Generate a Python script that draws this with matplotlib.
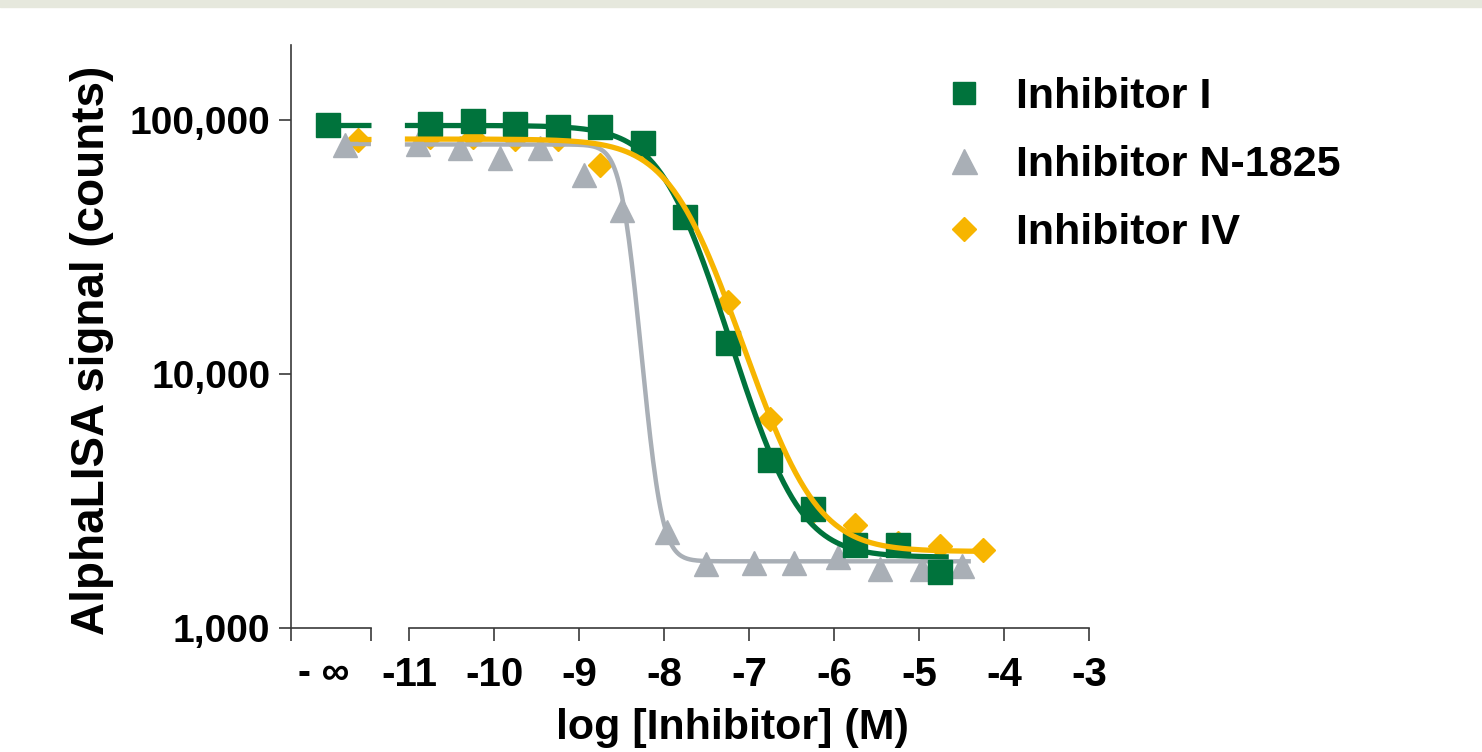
import numpy as np
import matplotlib
matplotlib.use("Agg")
import matplotlib.pyplot as plt
import matplotlib.transforms as mtransforms
from matplotlib.lines import Line2D
from matplotlib.patches import Rectangle

plt.rcParams['font.family'] = ['Liberation Sans', 'DejaVu Sans']
plt.rcParams['font.weight'] = 'bold'

# log [Inhibitor] (M) of each dilution and AlphaLISA counts
logc_inh1 = [-10.75, -10.25, -9.75, -9.25, -8.75, -8.25, -7.75, -7.25, -6.75, -6.25, -5.75, -5.25, -4.75]
sig_inh1 = [96400, 99100, 96400, 93800, 93800, 81100, 41500, 13200, 4580, 2940, 2120, 2120, 1660]
ctrl_inh1 = 95500  # no inhibitor (- inf)

logc_n1825 = [-10.9, -10.4, -9.93, -9.46, -8.94, -8.49, -7.96, -7.51, -6.94, -6.47, -5.95, -5.46, -4.96, -4.49]
sig_n1825 = [80000, 77600, 70800, 77600, 60700, 44300, 2390, 1790, 1800, 1800, 1900, 1710, 1710, 1750]
ctrl_n1825 = 79800

logc_inh4 = [-10.75, -10.25, -9.75, -9.25, -8.75, -8.25, -7.75, -7.25, -6.75, -6.25, -5.75, -5.25, -4.75, -4.25]
sig_inh4 = [85700, 85700, 84200, 84200, 66500, 76200, 41500, 19200, 6650, 2890, 2550, 2160, 2100, 2030]
ctrl_inh4 = 83400

# four parameter fits: top, bottom, logIC50, hill slope
fit_inh1 = (95000, 1900, -7.85, 1.35)
fit_n1825 = (80000, 1830, -8.45, 4.5)
fit_inh4 = (84000, 2000, -7.72, 1.25)

labels = ["Inhibitor I", "Inhibitor N-1825", "Inhibitor IV"]
xticks = [-11, -10, -9, -8, -7, -6, -5, -4, -3]
yticks = [1000, 10000, 100000]
yticklabels = ["1,000", "10,000", "100,000"]

GREEN = '#00733c'
GRAY = '#a9afb6'
YELLOW = '#f7b500'
AXC = '#3a3a3a'

X_INF = -12.0      # where the "- inf" label sits
X_LEFT = -12.39    # left end of axis
X_BREAK = -11.45   # end of the first axis segment


def four_pl(x, top, bottom, logic50, hill):
    return bottom + (top - bottom) / (1 + 10 ** ((x - logic50) * hill))


fig = plt.figure(figsize=(14.82, 7.52), dpi=100)
fig.patches.append(Rectangle((0, 1 - 7 / 752), 1, 7 / 752, transform=fig.transFigure,
                             color='#e6e8dd', zorder=0))
ax = fig.add_axes([291 / 1482, 1 - 628 / 752, 798 / 1482, 583 / 752])

# data, fit, colour, marker, size, line width, marker z, line z, -inf offset
series = [
    (logc_inh1, sig_inh1, ctrl_inh1, fit_inh1, GREEN, 's', 17, 3.8, 5, 6, 0.05),
    (logc_n1825, sig_n1825, ctrl_n1825, fit_n1825, GRAY, '^', 17, 3.2, 4, 4.5, 0.25),
    (logc_inh4, sig_inh4, ctrl_inh4, fit_inh4, YELLOW, 'D', 12, 3.8, 3, 7, 0.4),
]

for logc, sig, ctrl, fit, col, mk, ms, lw, mz, lz, off in series:
    ax.plot(logc, sig, ls='none', marker=mk, ms=ms, color=col, mec=col, zorder=mz, clip_on=False)
    ax.plot([X_INF + off], [ctrl], ls='none', marker=mk, ms=ms, color=col, mec=col, zorder=mz,
            clip_on=False)
    xs = np.linspace(-11.05, logc[-1] + 0.1, 400)
    ax.plot(xs, four_pl(xs, *fit), color=col, lw=lw, zorder=lz, solid_capstyle='butt')
    ax.plot([X_INF + off, X_BREAK], [fit[0], fit[0]], color=col, lw=lw, zorder=lz,
            solid_capstyle='butt')

ax.set_yscale('log')
ax.set_ylim(1000, 197000)
ax.set_xlim(X_LEFT, -3)

ax.yaxis.set_major_locator(matplotlib.ticker.FixedLocator(yticks))
ax.yaxis.set_minor_locator(matplotlib.ticker.NullLocator())
ax.set_yticklabels(yticklabels)

ax.set_xticks([X_LEFT, X_BREAK] + xticks)
ax.set_xticklabels(['', ''] + [str(t) for t in xticks])
ax.set_xticks([X_INF], minor=True)
ax.set_xticklabels(['- \u221e'], minor=True)

for s in ['top', 'right', 'bottom']:
    ax.spines[s].set_visible(False)
ax.spines['left'].set_color(AXC)
ax.spines['left'].set_linewidth(1.2)

# broken x axis line
trans = mtransforms.blended_transform_factory(ax.transData, ax.transAxes)
ax.plot([X_LEFT, X_BREAK], [0, 0], color=AXC, lw=1.2, transform=trans, clip_on=False, zorder=1)
ax.plot([-11, -3], [0, 0], color=AXC, lw=1.2, transform=trans, clip_on=False, zorder=1)

ax.tick_params(axis='both', which='major', length=9, width=1.2, color=AXC)
ax.tick_params(axis='x', which='major', pad=11, labelsize=29)
ax.tick_params(axis='y', which='major', pad=6, labelsize=28)
ax.tick_params(axis='x', which='minor', length=0, pad=20, labelsize=28)
for lab in ax.get_xticklabels() + ax.get_xticklabels(minor=True) + ax.get_yticklabels():
    lab.set_color('black')
    lab.set_fontweight('bold')

ax.set_ylabel("AlphaLISA signal (counts)", fontsize=33, fontweight='bold')
ax.yaxis.set_label_coords(-0.222, 0.477)
ax.set_xlabel("log [Inhibitor] (M)", fontsize=31, fontweight='bold')
ax.xaxis.set_label_coords(0.553, -0.138)

handles = [
    Line2D([], [], ls='none', marker='s', ms=16, color=GREEN),
    Line2D([], [], ls='none', marker='^', ms=18, color=GRAY),
    Line2D([], [], ls='none', marker='D', ms=12, color=YELLOW),
]
ax.legend(handles, labels, loc='upper left', bbox_to_anchor=(942 / 1482, 1 - 77 / 752),
          bbox_transform=fig.transFigure, frameon=False, fontsize=31, handlelength=1.0,
          handletextpad=0.73, labelspacing=0.65, borderpad=0, borderaxespad=0)

fig.savefig("out.png", dpi=100, facecolor='white')
